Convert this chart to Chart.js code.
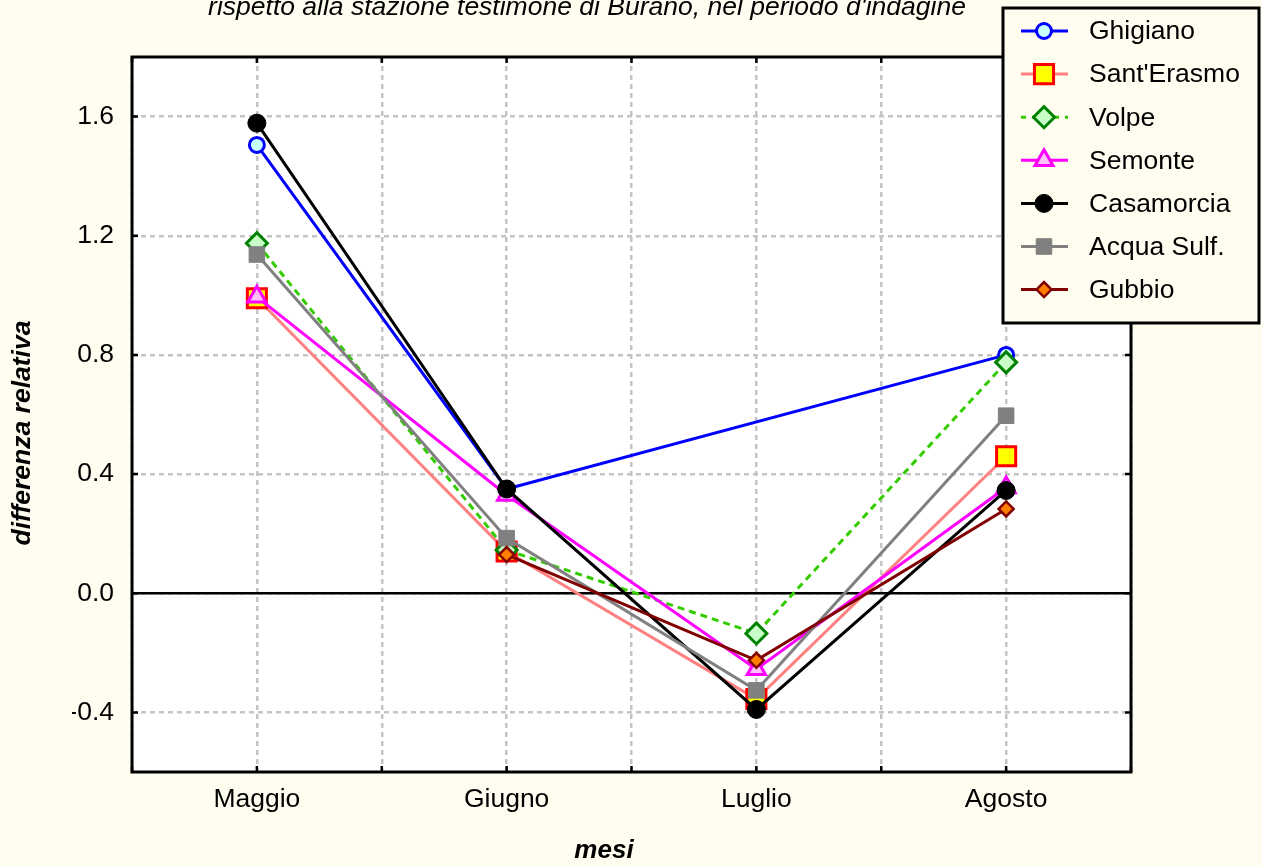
<!DOCTYPE html>
<html><head><meta charset="utf-8">
<script src="https://cdn.jsdelivr.net/npm/chart.js@4.4.1/dist/chart.umd.min.js"></script>
<style>html,body{margin:0;padding:0;background:#fffdf0;} canvas{display:block}</style>
</head><body>
<canvas id="c" width="1262" height="866"></canvas>
<script>
// ---- data ----
const months = ['Maggio', 'Giugno', 'Luglio', 'Agosto'];
const seriesNames = ['Ghigiano', "Sant'Erasmo", 'Volpe', 'Semonte', 'Casamorcia', 'Acqua Sulf.', 'Gubbio'];
const ghigiano   = [1.505, 0.35, null, 0.80];
const santErasmo = [0.99, 0.14, -0.355, 0.46];
const volpe      = [1.175, 0.145, -0.135, 0.775];
const semonte    = [0.995, 0.33, -0.255, 0.355];
const casamorcia = [1.578, 0.35, -0.39, 0.345];
const acquaSulf  = [1.137, 0.185, -0.326, 0.596];
const gubbio     = [null, 0.13, -0.225, 0.283];
const yTickValues = [-0.4, 0.0, 0.4, 0.8, 1.2, 1.6];
const titleText = "rispetto alla stazione testimone di Burano, nel periodo d'indagine";
const xTitle = 'mesi';
const yTitle = 'differenza relativa';

const seriesValues = [ghigiano, santErasmo, volpe, semonte, casamorcia, acquaSulf, gubbio];

// ---- styles ----
const FONT = "'Liberation Sans', Arial, sans-serif";
const styles = [
  {line:'#0000ff', dash:[], ps:'circle', r:7.5, fill:'#c8ffff', border:'#0000ff', bw:3, span:true},
  {line:'#ff8080', dash:[], ps:'rect', r:13.5, fill:'#ffff00', border:'#ff0000', bw:3, span:false},
  {line:'#33cc00', dash:[7,5], ps:'rectRot', r:10.5, fill:'#c8ffc8', border:'#008000', bw:3, span:false},
  {line:'#ff00ff', dash:[], ps:'triangle', r:10.5, fill:'#ffc0ff', border:'#ff00ff', bw:3, span:false},
  {line:'#000000', dash:[], ps:'circle', r:9, fill:'#000000', border:'#000000', bw:1, span:false},
  {line:'#808080', dash:[], ps:'rect', r:11, fill:'#808080', border:'#808080', bw:1, span:false},
  {line:'#800000', dash:[], ps:'rectRot', r:7.5, fill:'#ff8000', border:'#800000', bw:2.5, span:false}
];

const xTickValues = [];
for (let i = 0; i < months.length; i++) { xTickValues.push(i - 0.5, i); }
xTickValues.push(months.length - 0.5);

const datasets = seriesNames.map((name, i) => {
  const s = styles[i];
  return {
    label: name,
    data: seriesValues[i].map((v, k) => ({x: k, y: v})),
    borderColor: s.line,
    borderWidth: 3,
    borderDash: s.dash,
    pointStyle: s.ps,
    pointRadius: s.r,
    pointBackgroundColor: s.fill,
    pointBorderColor: s.border,
    pointBorderWidth: s.bw,
    spanGaps: s.span,
    tension: 0,
    fill: false,
    order: seriesNames.length - i
  };
});

const decor = {
  id: 'decor',
  beforeDraw(chart) {
    const ctx = chart.ctx, a = chart.chartArea;
    ctx.save();
    ctx.fillStyle = '#fffdf0';
    ctx.fillRect(0, 0, chart.width, chart.height);
    ctx.fillStyle = '#ffffff';
    ctx.fillRect(a.left, a.top, a.right - a.left, a.bottom - a.top);
    ctx.restore();
  },
  beforeDatasetsDraw(chart) {
    const ctx = chart.ctx, a = chart.chartArea, ys = chart.scales.y;
    const y0 = ys.getPixelForValue(0);
    ctx.save();
    ctx.strokeStyle = '#000'; ctx.lineWidth = 2.5;
    ctx.beginPath(); ctx.moveTo(a.left, y0); ctx.lineTo(a.right, y0); ctx.stroke();
    ctx.restore();
  },
  afterDatasetsDraw(chart) {
    const ctx = chart.ctx, a = chart.chartArea, xs = chart.scales.x, ys = chart.scales.y;
    ctx.save();
    // frame
    ctx.strokeStyle = '#000'; ctx.lineWidth = 3;
    ctx.strokeRect(a.left, a.top, a.right - a.left, a.bottom - a.top);
    // inner ticks
    ctx.lineWidth = 2.5;
    ctx.beginPath();
    yTickValues.forEach(v => {
      const y = ys.getPixelForValue(v);
      ctx.moveTo(a.left, y); ctx.lineTo(a.left + 6, y);
      ctx.moveTo(a.right, y); ctx.lineTo(a.right - 6, y);
    });
    xTickValues.forEach(v => {
      const x = xs.getPixelForValue(v);
      ctx.moveTo(x, a.bottom); ctx.lineTo(x, a.bottom - 6);
      ctx.moveTo(x, a.top); ctx.lineTo(x, a.top + 6);
    });
    ctx.stroke();
    // title
    ctx.fillStyle = '#000';
    ctx.font = 'italic 26.5px ' + FONT;
    ctx.textAlign = 'center'; ctx.textBaseline = 'alphabetic';
    ctx.fillText(titleText, 587, 15);
    // axis titles
    ctx.font = 'italic bold 26px ' + FONT;
    ctx.textBaseline = 'middle';
    ctx.fillText(xTitle, 604, 851);
    ctx.save();
    ctx.translate(23, 433); ctx.rotate(-Math.PI / 2);
    ctx.font = 'italic bold 26.5px ' + FONT;
    ctx.fillText(yTitle, 0, 0);
    ctx.restore();
    // legend
    const lx = 1003, ly = 8, lw = 256, lh = 315;
    ctx.fillStyle = '#fffdf0';
    ctx.fillRect(lx, ly, lw, lh);
    ctx.strokeStyle = '#000'; ctx.lineWidth = 3;
    ctx.strokeRect(lx, ly, lw, lh);
    seriesNames.forEach((name, i) => {
      const s = styles[i];
      const y = 31 + i * 43.1;
      ctx.save();
      ctx.strokeStyle = s.line; ctx.lineWidth = 3; ctx.setLineDash(s.dash.length ? [5, 6] : []);
      ctx.beginPath(); ctx.moveTo(1021, y); ctx.lineTo(1068, y); ctx.stroke();
      ctx.setLineDash([]);
      ctx.fillStyle = s.fill; ctx.strokeStyle = s.border; ctx.lineWidth = s.bw;
      Chart.helpers.drawPoint(ctx, {pointStyle: s.ps, radius: s.r, rotation: 0, borderWidth: s.bw}, 1044, y);
      ctx.restore();
      ctx.fillStyle = '#000';
      ctx.font = '26.5px ' + FONT;
      ctx.textAlign = 'left'; ctx.textBaseline = 'middle';
      ctx.fillText(name, 1089, y + 1);
    });
    ctx.restore();
  }
};

new Chart(document.getElementById('c'), {
  type: 'line',
  data: { datasets },
  options: {
    responsive: false,
    animation: false,
    layout: { padding: { left: 72, right: 131, top: 57, bottom: 54 } },
    plugins: { legend: { display: false }, tooltip: { enabled: false }, title: { display: false } },
    scales: {
      x: {
        type: 'linear', min: -0.5, max: months.length - 0.5,
        afterBuildTicks: s => { s.ticks = xTickValues.map(v => ({value: v})); },
        afterFit: s => { s.height = 40; },
        grid: { color: '#c4c4c4', lineWidth: 2.5, drawTicks: false, tickLength: 0 },
        border: { display: false, dash: [5, 4] },
        ticks: {
          autoSkip: false, maxRotation: 0, padding: 12, color: '#000',
          font: { family: FONT, size: 26.5 },
          callback: v => Number.isInteger(v) ? months[v] : ''
        }
      },
      y: {
        type: 'linear', min: -0.6, max: 1.8,
        afterBuildTicks: s => { s.ticks = yTickValues.map(v => ({value: v})); },
        afterFit: s => { s.width = 60; },
        grid: { color: '#c4c4c4', lineWidth: 2.5, drawTicks: false, tickLength: 0 },
        border: { display: false, dash: [5, 4] },
        ticks: {
          padding: 18, color: '#000',
          font: { family: FONT, size: 26.5 },
          callback: v => v.toFixed(1)
        }
      }
    }
  },
  plugins: [decor]
});
</script>
</body></html>
